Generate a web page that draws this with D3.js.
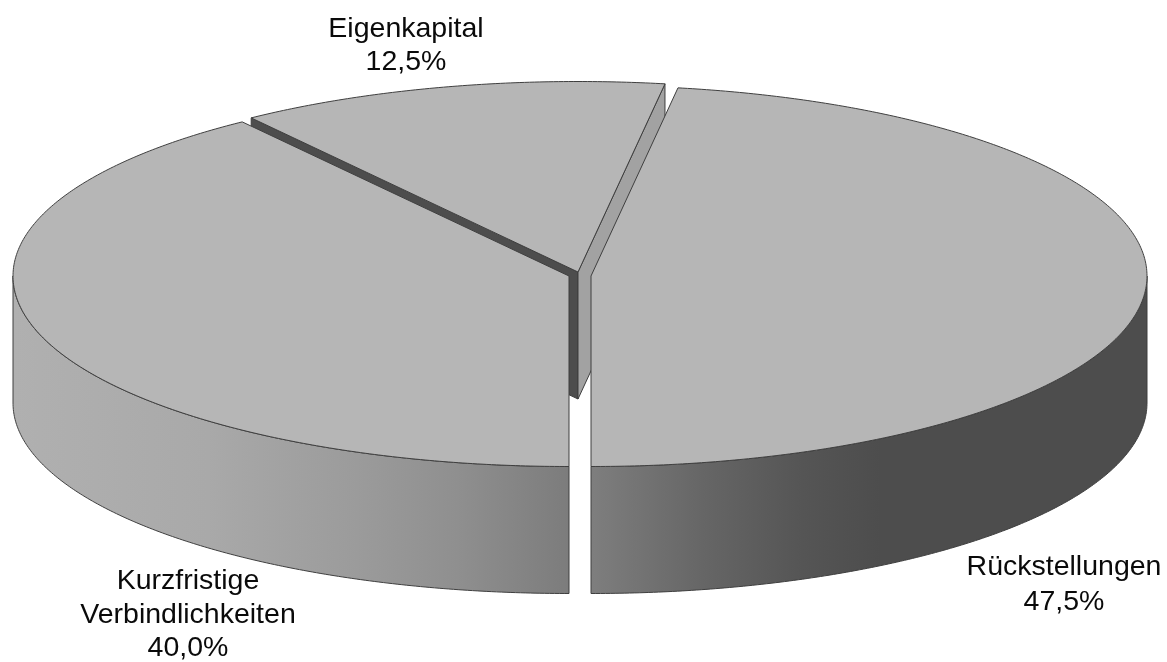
<!DOCTYPE html>
<html>
<head>
<meta charset="utf-8">
<style>
html,body{margin:0;padding:0;background:#fff;overflow:hidden}
svg{display:block;filter:blur(0.4px)}
text{font-family:"Liberation Sans",Arial,sans-serif;font-size:28.5px;fill:#0a0a0a;text-anchor:middle}
</style>
<script src="https://cdn.jsdelivr.net/npm/d3@7/dist/d3.min.js"></script>
</head>
<body>
<svg id="chart" width="1167" height="662"></svg>
<script>
// Data
const categories = ["Rückstellungen", "Kurzfristige Verbindlichkeiten", "Eigenkapital"];
const shares = [47.5, 40.0, 12.5];
const labelLines = [["Rückstellungen", "47,5%"], ["Kurzfristige", "Verbindlichkeiten", "40,0%"], ["Eigenkapital", "12,5%"]];

// Layout (not data)
const rx = 556, ry = 190.5, depth = 127;
const centers = [{x:591, y:276}, {x:569, y:276}, {x:578, y:272}];
const labelAnchors = [{x:1064, y:575}, {x:188, y:589}, {x:406, y:37}];
const lineSteps = [35, 33.5, 33];
const sideStops = [
  [[0,"#7e7e7e"],[0.2,"#666666"],[0.38,"#555555"],[0.52,"#4d4d4d"],[1,"#4d4d4d"]],
  [[0,"#b0b0b0"],[0.35,"#a9a9a9"],[0.62,"#9b9b9b"],[0.8,"#8f8f8f"],[1,"#7c7c7c"]]
];
const topFill = "#b6b6b6", strokeColor = "#3f3f3f";
const wallLeft = "#4d4d4d", wallRight = "#a2a2a2";

const svg = d3.select("#chart");
const defs = svg.append("defs");
const rad = d => d * Math.PI / 180;

const arcs = d3.pie().sort(null).value(d => d).startAngle(rad(9)).endAngle(rad(369))(shares);

const px = (c, a) => c.x + rx * Math.sin(a);
const py = (c, a) => c.y - ry * Math.cos(a);
const samples = (a0, a1) => {
  const n = Math.max(2, Math.ceil(Math.abs(a1 - a0) / rad(0.5)));
  return d3.range(n + 1).map(i => a0 + (a1 - a0) * i / n);
};
const lineGen = d3.line();
const rim = (c, a0, a1, dy = 0) => samples(a0, a1).map(a => [px(c, a), py(c, a) + dy]);

function drawWall(c, a, fill, g) {
  const e = [px(c, a), py(c, a)];
  g.append("path")
    .attr("d", lineGen([[c.x, c.y], e, [e[0], e[1] + depth], [c.x, c.y + depth]]) + "Z")
    .attr("fill", fill).attr("stroke", strokeColor).attr("stroke-width", 1);
}
function drawSide(c, a0, a1, i, g) {
  const s = Math.max(a0, rad(90)), e = Math.min(a1, rad(270));
  if (e <= s) return;
  const pts = rim(c, s, e).concat(rim(c, e, s, depth));
  const xs = pts.map(p => p[0]);
  const id = "side" + i;
  const lg = defs.append("linearGradient").attr("id", id).attr("gradientUnits", "userSpaceOnUse")
    .attr("x1", d3.min(xs)).attr("x2", d3.max(xs)).attr("y1", 0).attr("y2", 0);
  lg.selectAll("stop").data(sideStops[i]).join("stop")
    .attr("offset", d => d[0]).attr("stop-color", d => d[1]);
  g.append("path").attr("d", lineGen(pts) + "Z")
    .attr("fill", `url(#${id})`).attr("stroke", strokeColor).attr("stroke-width", 1);
}
function drawTop(c, a0, a1, g) {
  g.append("path").attr("d", lineGen([[c.x, c.y]].concat(rim(c, a0, a1))) + "Z")
    .attr("fill", topFill).attr("stroke", strokeColor).attr("stroke-width", 1)
    .attr("stroke-linejoin", "round");
}

const root = svg.append("g");
// Back slice first, so the two front slices cover most of its cut walls.
[2, 0, 1].forEach(i => {
  const d = arcs[i], c = centers[i];
  const piece = root.append("g").attr("class", "slice").attr("data-category", categories[i]);
  if (i === 2) {
    drawWall(c, d.startAngle, wallLeft, piece);
    drawWall(c, d.endAngle, wallRight, piece);
  }
  drawSide(c, d.startAngle, d.endAngle, i, piece);
  drawTop(c, d.startAngle, d.endAngle, piece);
});

labelLines.forEach((lines, i) => {
  const t = svg.append("text");
  lines.forEach((s, k) => {
    t.append("tspan").attr("x", labelAnchors[i].x).attr("y", labelAnchors[i].y + k * lineSteps[i]).text(s);
  });
});
</script>
</body>
</html>
